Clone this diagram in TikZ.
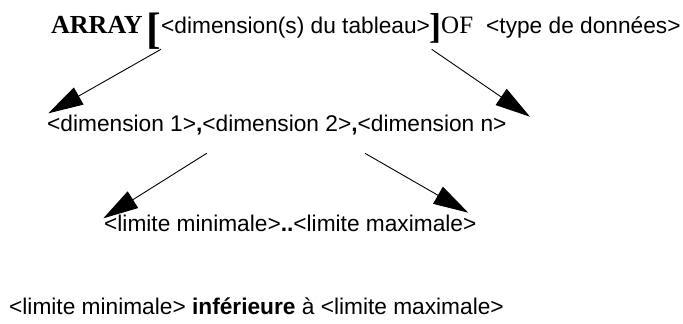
\documentclass[tikz,border=0pt]{standalone}
\usepackage{fontspec}
\setmainfont{Liberation Serif}
\setsansfont{Liberation Sans}
\usetikzlibrary{arrows.meta}

\begin{document}
\begin{tikzpicture}[x=1pt, y=-1pt,
  txt/.style={inner sep=0pt, anchor=base west, font=\sffamily\fontsize{22.7}{27}\selectfont},
  kw/.style={inner sep=0pt, anchor=base west},
  brk/.style={inner sep=0pt, anchor=center},
  arr/.style={line width=0.9pt, -{Triangle[length=35pt, width=19.5pt]}}]

  \fill[white] (0,0) rectangle (683,324);
  \useasboundingbox (0,0) rectangle (683,324);

  % first line: the declaration
  \node[kw, font=\rmfamily\bfseries\fontsize{26}{30}\selectfont] (array) at (51,34) {ARRAY};
  \node[brk, font=\rmfamily\bfseries\fontsize{44}{48}\selectfont] (lb) at (154,31.3) {[};
  \node[txt] (dims) at (161,34) {<dimension(s) du tableau>};
  \node[brk, font=\rmfamily\bfseries\fontsize{36}{40}\selectfont] (rb) at (435,28.3) {]};
  \node[kw, font=\rmfamily\fontsize{25}{30}\selectfont] (of) at (441,33.5) {OF};
  \node[txt] (type) at (486,34) {<type de données>};

  % second line: the dimensions
  \node[txt] (dimlist) at (47,131.7) {<dimension 1>{\bfseries ,}<dimension 2>{\bfseries ,}<dimension n>};

  % third line: the bounds
  \node[txt] (bounds) at (104,231.7) {<limite minimale>{\bfseries ..}<limite maximale>};

  % closing remark
  \node[txt] (rule) at (9,314) {<limite minimale> {\bfseries inférieure} à <limite maximale>};

  % connector ends
  \coordinate (a1s) at (161,49.3);
  \coordinate (a1e) at (48.3,113.3);
  \coordinate (a2s) at (431.7,49.3);
  \coordinate (a2e) at (530,116.7);
  \coordinate (a3s) at (206.7,153.3);
  \coordinate (a3e) at (103.3,218.3);
  \coordinate (a4s) at (365,153.3);
  \coordinate (a4e) at (468.3,212.7);

  \draw[arr] (a1s) -- (a1e);
  \draw[arr] (a2s) -- (a2e);
  \draw[arr] (a3s) -- (a3e);
  \draw[arr] (a4s) -- (a4e);
\end{tikzpicture}
\end{document}
